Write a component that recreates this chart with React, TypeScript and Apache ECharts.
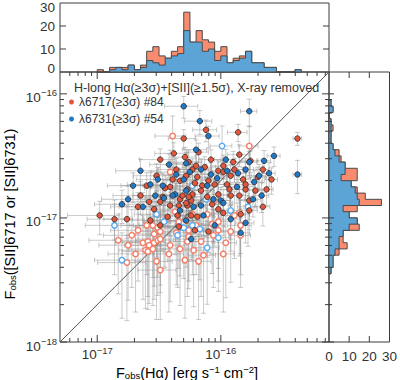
import React, { useEffect, useRef } from 'react';
import * as echarts from 'echarts';

const FONT = '"Liberation Sans", Arial, sans-serif';
const TEXT = '#333333';
const AXIS = '#3c3c3c';

const X_MIN = 5e-18;
const X_MAX = 7.5e-16;
const Y_MIN = 1e-18;
const Y_MAX = 1.5e-16;
const COUNT_MAX = 30;

const X_MAJOR = [1e-17, 1e-16];
const X_MINOR = [6e-18, 7e-18, 8e-18, 9e-18, 2e-17, 3e-17, 4e-17, 5e-17, 6e-17, 7e-17, 8e-17, 9e-17, 2e-16, 3e-16, 4e-16, 5e-16, 6e-16, 7e-16];
const Y_MAJOR = [1e-18, 1e-17, 1e-16];
const Y_MINOR = [2e-18, 3e-18, 4e-18, 5e-18, 6e-18, 7e-18, 8e-18, 9e-18, 2e-17, 3e-17, 4e-17, 5e-17, 6e-17, 7e-17, 8e-17, 9e-17];
const COUNT_TICKS = [10, 20];

const NAME_6717 = 'λ6717(≥3σ) #84';
const NAME_6731 = 'λ6731(≥3σ) #54';
const HEADER = 'H-long Hα(≥3σ)+[SII](≥1.5σ), X-ray removed';

// histogram bins: log10 flux, width 0.05 dex
const BIN_W = 0.05;
const TOP_BIN_START = -17.0;
const TOP_ORANGE = [1, 0, 2, 2, 2, 3, 1, 3, 9, 11, 7, 6, 9, 11, 26, 13, 18, 14, 13, 9, 11, 4, 6, 7, 9, 4, 4, 2, 2, 0, 0, 0, 1];
const TOP_BLUE = [0, 0, 1, 2, 1, 3, 1, 2, 5, 4, 3, 6, 7, 8, 18, 13, 13, 9, 10, 5, 7, 4, 5, 6, 9, 4, 4, 2, 2, 0, 0, 0, 1];
const RIGHT_BIN_START = -17.45;
const RIGHT_ORANGE = [1, 2, 2, 5, 9, 7, 7, 15, 14, 10, 14, 26, 18, 14, 11, 14, 14, 8, 6, 5, 2, 1, 1, 2, 1, 0, 2, 1];
const RIGHT_BLUE = [1, 2, 2, 3, 5, 5, 7, 10, 14, 10, 7, 15, 14, 13, 11, 6, 8, 8, 5, 3, 2, 1, 1, 1, 1, 0, 2, 1];

// [log10 F(Hα), log10 F([SII]), relative x error, relative y error]
const RED_FILLED = [
  [-16.30, -16.36, 0.25, 0.18], [-16.38, -16.48, 0.30, 0.22], [-16.29, -16.51, 0.22, 0.20], [-16.26, -16.55, 0.28, 0.25],
  [-16.47, -16.83, 0.35, 0.28], [-16.58, -16.87, 0.40, 0.30], [-16.49, -16.87, 0.30, 0.25], [-16.34, -16.90, 0.25, 0.28],
  [-16.98, -16.98, 0.45, 0.30], [-16.86, -17.01, 0.40, 0.32], [-16.76, -17.01, 0.35, 0.30], [-16.54, -16.93, 0.30, 0.26],
  [-16.43, -16.99, 0.28, 0.30], [-16.35, -16.98, 0.30, 0.31], [-16.24, -16.98, 0.22, 0.29], [-16.18, -16.47, 0.20, 0.18],
  [-16.19, -16.67, 0.25, 0.22], [-16.41, -16.75, 0.30, 0.24], [-16.45, -16.76, 0.32, 0.26], [-16.23, -16.81, 0.24, 0.27],
  [-16.12, -16.29, 0.22, 0.20], [-15.86, -16.31, 0.18, 0.16], [-15.38, -16.36, 0.08, 0.12], [-15.85, -16.49, 0.20, 0.20],
  [-15.90, -16.55, 0.25, 0.22], [-16.15, -16.74, 0.20, 0.25], [-16.02, -16.62, 0.22, 0.20], [-15.98, -16.63, 0.18, 0.24],
  [-15.98, -16.58, 0.20, 0.22], [-15.82, -16.69, 0.15, 0.25], [-15.70, -16.67, 0.15, 0.20], [-15.66, -16.61, 0.12, 0.22],
  [-15.80, -16.77, 0.18, 0.26], [-15.85, -16.82, 0.20, 0.28], [-16.21, -16.72, 0.25, 0.24], [-16.10, -16.70, 0.22, 0.26],
  [-16.27, -16.77, 0.26, 0.27], [-16.16, -16.78, 0.20, 0.25], [-16.02, -16.81, 0.20, 0.28], [-15.92, -16.82, 0.18, 0.27],
  [-15.77, -16.86, 0.16, 0.30], [-16.10, -17.11, 0.22, 0.32], [-16.19, -16.99, 0.24, 0.31], [-16.27, -16.90, 0.25, 0.28],
  [-16.33, -16.85, 0.28, 0.27], [-16.02, -16.93, 0.20, 0.30], [-16.24, -16.86, 0.23, 0.28], [-16.28, -16.88, 0.26, 0.29],
  [-16.23, -16.61, 0.22, 0.22], [-16.39, -16.69, 0.30, 0.25], [-16.05, -16.73, 0.20, 0.24], [-15.92, -16.66, 0.18, 0.23],
  [-15.76, -16.54, 0.15, 0.20], [-15.59, -16.69, 0.12, 0.24], [-16.36, -16.61, 0.28, 0.23], [-16.52, -16.66, 0.35, 0.25],
  [-16.60, -16.74, 0.38, 0.27], [-16.65, -16.82, 0.40, 0.30], [-16.31, -16.82, 0.26, 0.27], [-16.08, -16.53, 0.20, 0.20],
  [-15.95, -16.73, 0.18, 0.26], [-15.72, -16.78, 0.15, 0.26], [-15.66, -16.91, 0.14, 0.30], [-16.07, -16.89, 0.22, 0.29],
  [-16.34, -17.07, 0.28, 0.32], [-16.49, -17.06, 0.32, 0.32], [-16.21, -17.10, 0.24, 0.32], [-16.41, -16.90, 0.30, 0.28],
  [-16.11, -16.83, 0.22, 0.27], [-15.80, -16.73, 0.17, 0.25], [-15.93, -16.77, 0.19, 0.26], [-16.49, -16.53, 0.32, 0.22],
  [-16.28, -16.66, 0.25, 0.23], [-15.98, -16.96, 0.20, 0.30], [-15.84, -16.97, 0.18, 0.31], [-16.57, -17.02, 0.36, 0.32],
  [-16.20, -16.58, 0.22, 0.22], [-15.89, -16.61, 0.18, 0.22], [-16.26, -16.83, 0.25, 0.27], [-15.63, -16.77, 0.13, 0.26],
  [-16.67, -16.91, 0.40, 0.30], [-16.13, -16.59, 0.22, 0.21], [-16.33, -16.70, 0.27, 0.25], [-15.77, -16.94, 0.16, 0.30],
];

const BLUE_FILLED = [
  [-16.30, -16.10, 0.30, 0.20], [-16.17, -16.22, 0.25, 0.22], [-16.10, -16.34, 0.22, 0.20], [-15.77, -16.14, 0.15, 0.25],
  [-16.20, -16.45, 0.22, 0.20], [-16.36, -16.65, 0.28, 0.24], [-16.57, -16.73, 0.35, 0.26], [-16.71, -16.74, 0.38, 0.27],
  [-16.80, -16.89, 0.40, 0.30], [-16.63, -16.91, 0.36, 0.30], [-15.57, -16.50, 0.12, 0.18], [-15.38, -16.65, 0.08, 0.30],
  [-15.61, -16.64, 0.12, 0.22], [-15.77, -16.55, 0.16, 0.22], [-16.25, -16.63, 0.25, 0.23], [-16.28, -16.56, 0.25, 0.22],
  [-16.46, -16.84, 0.30, 0.28], [-16.28, -16.78, 0.26, 0.26], [-16.11, -16.74, 0.22, 0.25], [-16.06, -16.85, 0.21, 0.28],
  [-16.00, -16.86, 0.20, 0.28], [-16.16, -16.90, 0.23, 0.29], [-15.65, -16.54, 0.13, 0.21], [-15.69, -16.66, 0.14, 0.23],
  [-15.73, -16.71, 0.15, 0.25], [-15.80, -16.61, 0.16, 0.22], [-16.30, -16.69, 0.27, 0.25], [-16.14, -16.98, 0.23, 0.31],
  [-15.98, -16.88, 0.19, 0.28], [-15.67, -16.82, 0.14, 0.27], [-15.86, -16.64, 0.17, 0.23], [-16.03, -16.68, 0.20, 0.24],
  [-15.95, -16.62, 0.18, 0.23], [-16.42, -16.57, 0.30, 0.22], [-16.51, -16.69, 0.33, 0.25], [-16.37, -16.81, 0.29, 0.27],
  [-16.22, -16.91, 0.24, 0.29], [-16.33, -16.94, 0.27, 0.30], [-15.92, -17.01, 0.19, 0.31], [-16.05, -17.06, 0.21, 0.32],
  [-16.24, -17.17, 0.25, 0.32], [-15.80, -17.04, 0.17, 0.31], [-15.87, -16.75, 0.17, 0.26], [-16.08, -16.65, 0.21, 0.24],
  [-16.47, -16.74, 0.31, 0.26], [-16.65, -16.62, 0.37, 0.24], [-16.75, -16.85, 0.39, 0.28], [-15.74, -16.85, 0.15, 0.28],
  [-16.16, -16.61, 0.22, 0.22], [-16.39, -16.82, 0.29, 0.27], [-16.53, -16.82, 0.34, 0.27], [-15.96, -16.53, 0.19, 0.21],
  [-16.28, -17.02, 0.26, 0.31], [-15.84, -17.12, 0.18, 0.32],
];

const RED_OPEN = [
  [-16.39, -16.34, 0.28, 0.45], [-16.41, -16.63, 0.30, 0.50], [-15.77, -16.42, 0.18, 0.45], [-15.89, -16.98, 0.22, 0.55],
  [-15.84, -17.06, 0.22, 0.60], [-16.02, -17.03, 0.25, 0.58], [-16.60, -17.06, 0.38, 0.60], [-16.55, -17.06, 0.35, 0.62],
  [-16.51, -17.08, 0.34, 0.60], [-16.49, -17.11, 0.33, 0.63], [-16.54, -17.13, 0.35, 0.62], [-16.63, -17.20, 0.40, 0.65],
  [-16.59, -17.19, 0.38, 0.64], [-16.58, -17.22, 0.37, 0.66], [-16.54, -17.20, 0.36, 0.65], [-16.51, -17.18, 0.34, 0.64],
  [-16.49, -17.17, 0.33, 0.63], [-16.61, -17.26, 0.39, 0.66], [-16.59, -17.27, 0.38, 0.66], [-16.55, -17.25, 0.36, 0.65],
  [-16.42, -17.29, 0.31, 0.66], [-16.75, -17.22, 0.42, 0.64], [-16.76, -17.36, 0.42, 0.66], [-16.49, -17.42, 0.34, 0.60],
  [-16.29, -17.34, 0.28, 0.66], [-16.22, -17.26, 0.27, 0.65], [-16.27, -17.19, 0.28, 0.64], [-16.26, -17.15, 0.28, 0.62],
  [-16.34, -17.03, 0.30, 0.58], [-16.28, -17.02, 0.28, 0.58], [-16.20, -17.06, 0.26, 0.60], [-16.07, -17.05, 0.24, 0.60],
  [-15.85, -16.96, 0.20, 0.55], [-15.84, -17.14, 0.20, 0.62], [-16.26, -17.10, 0.28, 0.61], [-16.36, -17.12, 0.30, 0.62],
  [-16.14, -17.30, 0.25, 0.66], [-16.02, -17.10, 0.23, 0.61], [-16.06, -17.14, 0.24, 0.62], [-16.06, -16.87, 0.24, 0.52],
  [-16.45, -17.02, 0.32, 0.58], [-16.16, -17.19, 0.26, 0.64], [-15.96, -17.20, 0.22, 0.64], [-16.67, -17.10, 0.40, 0.61],
  [-16.41, -17.22, 0.31, 0.65], [-16.33, -17.25, 0.29, 0.65], [-16.11, -16.97, 0.25, 0.55], [-16.23, -16.97, 0.27, 0.55],
  [-16.72, -17.14, 0.41, 0.62], [-16.37, -16.95, 0.30, 0.55], [-16.69, -17.29, 0.40, 0.66], [-16.18, -17.35, 0.26, 0.66],
  [-15.98, -17.29, 0.22, 0.66], [-16.52, -17.35, 0.34, 0.66], [-16.83, -17.18, 0.42, 0.63], [-15.92, -17.11, 0.21, 0.61],
];

const BLUE_OPEN = [
  [-16.86, -17.06, 0.42, 0.60], [-16.80, -17.34, 0.40, 0.66], [-16.46, -17.03, 0.32, 0.58], [-16.33, -17.07, 0.29, 0.60],
  [-16.23, -17.06, 0.27, 0.60], [-16.30, -17.08, 0.28, 0.61], [-16.17, -17.09, 0.26, 0.61], [-16.02, -17.16, 0.23, 0.63],
  [-16.11, -17.24, 0.25, 0.65], [-15.99, -16.42, 0.20, 0.45], [-15.78, -16.91, 0.18, 0.52], [-16.23, -16.74, 0.27, 0.48],
  [-16.35, -17.14, 0.30, 0.62], [-15.92, -16.94, 0.21, 0.53], [-16.12, -16.85, 0.25, 0.50], [-16.52, -16.97, 0.34, 0.55],
];

const DIAG_X = [X_MIN, X_MAX];
const DIAG_Y = [Y_MIN, Y_MAX];

const RED_FILL = '#E4553C';
const BLUE_FILL = '#2079C7';
const RED_RING = '#F4806B';
const BLUE_RING = '#5FAEF0';
const HIST_ORANGE = '#F98B6F';
const HIST_BLUE = '#5CA4D6';

const toPt = (r: number[]) => [Math.pow(10, r[0]), Math.pow(10, r[1])];
const toErr = (r: number[]) => [Math.pow(10, r[0]), Math.pow(10, r[1]), r[2], r[3]];

const supRich = (big: number, small: number, padA: number, padB: number) => ({
  a: { fontSize: big, fontFamily: FONT, color: TEXT, padding: [padA, 0, 0, 0] },
  b: { fontSize: small, fontFamily: FONT, color: TEXT, padding: [0, 0, padB, 0] },
});
const powLabel = (v: number) => {
  const e = Math.round(Math.log10(v));
  return `{a|10}{b|${e < 0 ? '−' : ''}${Math.abs(e)}}`;
};

function errorBars(params: any, api: any) {
  const x = api.value(0), y = api.value(1), ex = api.value(2), ey = api.value(3);
  const p = api.coord([x, y]);
  const xl = api.coord([x * (1 - ex), y])[0];
  const xr = api.coord([x * (1 + ex), y])[0];
  const yb = api.coord([x, y * (1 - ey)])[1];
  const yt = api.coord([x, y * (1 + ey)])[1];
  const c = 2.5;
  const st = { stroke: 'rgba(140,140,140,0.45)', lineWidth: 1 };
  const L = (x1: number, y1: number, x2: number, y2: number) => ({ type: 'line', shape: { x1, y1, x2, y2 }, style: st });
  return {
    type: 'group',
    children: [
      L(xl, p[1], xr, p[1]), L(xl, p[1] - c, xl, p[1] + c), L(xr, p[1] - c, xr, p[1] + c),
      L(p[0], yb, p[0], yt), L(p[0] - c, yb, p[0] + c, yb), L(p[0] - c, yt, p[0] + c, yt),
    ],
  };
}

function histPolygon(api: any, counts: number[], start: number, vertical: boolean, fill: string) {
  const edge = (k: number) => Math.pow(10, start + k * BIN_W);
  const P = (e: number, c: number) => (vertical ? api.coord([c, e]) : api.coord([e, c]));
  const pts: number[][] = [P(edge(0), 0)];
  counts.forEach((c, k) => {
    pts.push(P(edge(k), c));
    pts.push(P(edge(k + 1), c));
  });
  pts.push(P(edge(counts.length), 0));
  return { type: 'polygon', shape: { points: pts }, style: { fill, stroke: '#4a4a4a', lineWidth: 1 } };
}

const seg = (ch: any[], x1: number, y1: number, x2: number, y2: number) =>
  ch.push({ type: 'line', shape: { x1, y1, x2, y2 }, style: { stroke: AXIS, lineWidth: 1 } });

function mainTicks(params: any, api: any) {
  const ch: any[] = [];
  const [left, bottom] = api.coord([X_MIN, Y_MIN]);
  const [right, top] = api.coord([X_MAX, Y_MAX]);
  const xt = (v: number, len: number) => {
    const x = api.coord([v, Y_MIN])[0];
    seg(ch, x, bottom, x, bottom - len);
    seg(ch, x, top, x, top + len);
  };
  const yt = (v: number, len: number) => {
    const y = api.coord([X_MIN, v])[1];
    seg(ch, left, y, left + len, y);
    seg(ch, right, y, right - len, y);
  };
  X_MAJOR.forEach((v) => xt(v, 7));
  X_MINOR.forEach((v) => xt(v, 4));
  Y_MAJOR.forEach((v) => yt(v, 7));
  Y_MINOR.forEach((v) => yt(v, 4));
  return { type: 'group', children: ch };
}

function topTicks(params: any, api: any) {
  const ch: any[] = [];
  const left = api.coord([X_MIN, 0])[0];
  const right = api.coord([X_MAX, 0])[0];
  COUNT_TICKS.forEach((v) => {
    const y = api.coord([X_MIN, v])[1];
    seg(ch, left, y, left + 6, y);
    seg(ch, right, y, right - 6, y);
  });
  return { type: 'group', children: ch };
}

function rightTicks(params: any, api: any) {
  const ch: any[] = [];
  const [left, bottom] = api.coord([0, Y_MIN]);
  const top = api.coord([0, Y_MAX])[1];
  COUNT_TICKS.forEach((v) => {
    const x = api.coord([v, Y_MIN])[0];
    seg(ch, x, bottom, x, bottom - 6);
    seg(ch, x, top, x, top + 6);
  });
  Y_MAJOR.forEach((v) => {
    const y = api.coord([0, v])[1];
    seg(ch, left, y, left + 5, y);
  });
  Y_MINOR.forEach((v) => {
    const y = api.coord([0, v])[1];
    seg(ch, left, y, left + 3, y);
  });
  return { type: 'group', children: ch };
}

const titleRich = {
  n: { fontSize: 14.5, fontFamily: FONT, color: TEXT },
  s: { fontSize: 9.5, fontFamily: FONT, color: TEXT, padding: [5, 0, 0, 0] },
  p: { fontSize: 9.5, fontFamily: FONT, color: TEXT, padding: [0, 0, 7, 0] },
};

export default function App() {
  const ref = useRef<HTMLDivElement>(null);
  useEffect(() => {
    const chart = echarts.init(ref.current!, null, { renderer: 'svg' });
    const gridStyle = { show: true, borderColor: AXIS, borderWidth: 1, backgroundColor: 'transparent' };
    const option: any = {
      animation: false,
      textStyle: { fontFamily: FONT },
      grid: [
        { left: 60, top: 72, width: 269, height: 270, ...gridStyle },
        { left: 60, top: 1, width: 269, height: 71, ...gridStyle },
        { left: 329, top: 72, width: 64, height: 270, ...gridStyle },
      ],
      xAxis: [
        {
          gridIndex: 0, type: 'log', logBase: 10, min: X_MIN, max: X_MAX,
          axisLine: { show: false }, axisTick: { show: false }, splitLine: { show: false },
          axisLabel: { formatter: powLabel, rich: supRich(13.5, 9.5, 0, 9), showMinLabel: false, showMaxLabel: false, margin: 3 },
        },
        { gridIndex: 1, type: 'log', logBase: 10, min: X_MIN, max: X_MAX, show: false },
        {
          gridIndex: 2, type: 'value', min: 0, max: COUNT_MAX, interval: 10,
          axisLine: { show: false }, axisTick: { show: false }, splitLine: { show: false },
          axisLabel: { fontSize: 13.5, color: TEXT, fontFamily: FONT, margin: 7, showMinLabel: true, showMaxLabel: true },
        },
      ],
      yAxis: [
        {
          gridIndex: 0, type: 'log', logBase: 10, min: Y_MIN, max: Y_MAX,
          axisLine: { show: false }, axisTick: { show: false }, splitLine: { show: false },
          axisLabel: { formatter: powLabel, rich: supRich(13.5, 9.5, 8, 2), showMinLabel: true, showMaxLabel: false, margin: 3 },
        },
        {
          gridIndex: 1, type: 'value', min: 0, max: COUNT_MAX, interval: 10,
          axisLine: { show: false }, axisTick: { show: false }, splitLine: { show: false },
          axisLabel: {
            margin: 5,
            formatter: (v: number) => (v === 0 ? '{lo|0}' : v === COUNT_MAX ? `{hi|${v}}` : `{n|${v}}`),
            rich: {
              n: { fontSize: 13.5, fontFamily: FONT, color: TEXT },
              lo: { fontSize: 13.5, fontFamily: FONT, color: TEXT, padding: [0, 0, 7, 0] },
              hi: { fontSize: 13.5, fontFamily: FONT, color: TEXT, padding: [8, 0, 0, 0] },
            },
            showMinLabel: true, showMaxLabel: true,
          },
        },
        { gridIndex: 2, type: 'log', logBase: 10, min: Y_MIN, max: Y_MAX, show: false },
      ],
      legend: {
        data: [
          { name: NAME_6717, icon: 'circle', itemStyle: { color: RED_FILL, borderWidth: 0 } },
          { name: NAME_6731, icon: 'circle', itemStyle: { color: BLUE_FILL, borderWidth: 0 } },
        ],
        orient: 'vertical', left: 69, top: 96, padding: 0, itemWidth: 5, itemHeight: 5, itemGap: 5,
        selectedMode: false,
        textStyle: { fontSize: 12, color: TEXT, fontFamily: FONT },
      },
      graphic: [
        {
          type: 'text', x: 74, y: 88, z: 20,
          style: { text: HEADER, fontSize: 12.5, fontFamily: FONT, fill: TEXT, align: 'left', verticalAlign: 'middle', textAlign: 'left', textVerticalAlign: 'middle' },
        },
        {
          type: 'text', x: 187, y: 373, z: 20,
          style: {
            text: '{n|F}{s|obs}{n|(Hα) [erg s}{p|−1}{n| cm}{p|−2}{n|]}', rich: titleRich,
            align: 'center', verticalAlign: 'middle', textAlign: 'center', textVerticalAlign: 'middle',
          },
        },
        {
          type: 'text', x: 10, y: 214, rotation: Math.PI / 2, z: 20,
          style: {
            text: '{n|F}{s|obs}{n|([SII]6717 or [SII]6731)}', rich: titleRich,
            align: 'center', verticalAlign: 'middle', textAlign: 'center', textVerticalAlign: 'middle',
          },
        },
      ],
      series: [
        {
          type: 'custom', xAxisIndex: 0, yAxisIndex: 0, z: 1, silent: true,
          renderItem: errorBars, encode: { x: 0, y: 1 },
          data: [...RED_OPEN, ...BLUE_OPEN, ...RED_FILLED, ...BLUE_FILLED].map(toErr),
        },
        {
          type: 'line', xAxisIndex: 0, yAxisIndex: 0, z: 2, silent: true, symbol: 'none',
          lineStyle: { color: '#555', width: 1 },
          data: DIAG_X.map((x, i) => [x, DIAG_Y[i]]),
        },
        {
          type: 'scatter', name: 'open6717', xAxisIndex: 0, yAxisIndex: 0, z: 3, symbolSize: 5.5,
          itemStyle: { color: '#ffffff', borderColor: RED_RING, borderWidth: 1.5, opacity: 1 },
          data: RED_OPEN.map(toPt),
        },
        {
          type: 'scatter', name: 'open6731', xAxisIndex: 0, yAxisIndex: 0, z: 3, symbolSize: 5.5,
          itemStyle: { color: '#ffffff', borderColor: BLUE_RING, borderWidth: 1.5, opacity: 1 },
          data: BLUE_OPEN.map(toPt),
        },
        {
          type: 'scatter', name: NAME_6717, xAxisIndex: 0, yAxisIndex: 0, z: 4, symbolSize: 5.5,
          itemStyle: { color: RED_FILL, borderColor: '#2a2a2a', borderWidth: 0.8, opacity: 1 },
          data: RED_FILLED.map(toPt),
        },
        {
          type: 'scatter', name: NAME_6731, xAxisIndex: 0, yAxisIndex: 0, z: 4, symbolSize: 5.5,
          itemStyle: { color: BLUE_FILL, borderColor: '#2a2a2a', borderWidth: 0.8, opacity: 1 },
          data: BLUE_FILLED.map(toPt),
        },
        {
          type: 'custom', xAxisIndex: 1, yAxisIndex: 1, z: 2, silent: true,
          data: [[1e-16, 10]],
          renderItem: (params: any, api: any) => ({
            type: 'group',
            children: [
              histPolygon(api, TOP_ORANGE, TOP_BIN_START, false, HIST_ORANGE),
              histPolygon(api, TOP_BLUE, TOP_BIN_START, false, HIST_BLUE),
            ],
          }),
        },
        {
          type: 'custom', xAxisIndex: 2, yAxisIndex: 2, z: 2, silent: true,
          data: [[10, 1e-17]],
          renderItem: (params: any, api: any) => ({
            type: 'group',
            children: [
              histPolygon(api, RIGHT_ORANGE, RIGHT_BIN_START, true, HIST_ORANGE),
              histPolygon(api, RIGHT_BLUE, RIGHT_BIN_START, true, HIST_BLUE),
            ],
          }),
        },
        { type: 'custom', xAxisIndex: 0, yAxisIndex: 0, z: 10, silent: true, data: [[1e-16, 1e-17]], renderItem: mainTicks },
        { type: 'custom', xAxisIndex: 1, yAxisIndex: 1, z: 10, silent: true, data: [[1e-16, 10]], renderItem: topTicks },
        { type: 'custom', xAxisIndex: 2, yAxisIndex: 2, z: 10, silent: true, data: [[10, 1e-17]], renderItem: rightTicks },
      ],
    };
    chart.setOption(option);
    return () => chart.dispose();
  }, []);
  return <div ref={ref} style={{ position: 'absolute', left: 0, top: 0, width: 400, height: 380 }} />;
}
